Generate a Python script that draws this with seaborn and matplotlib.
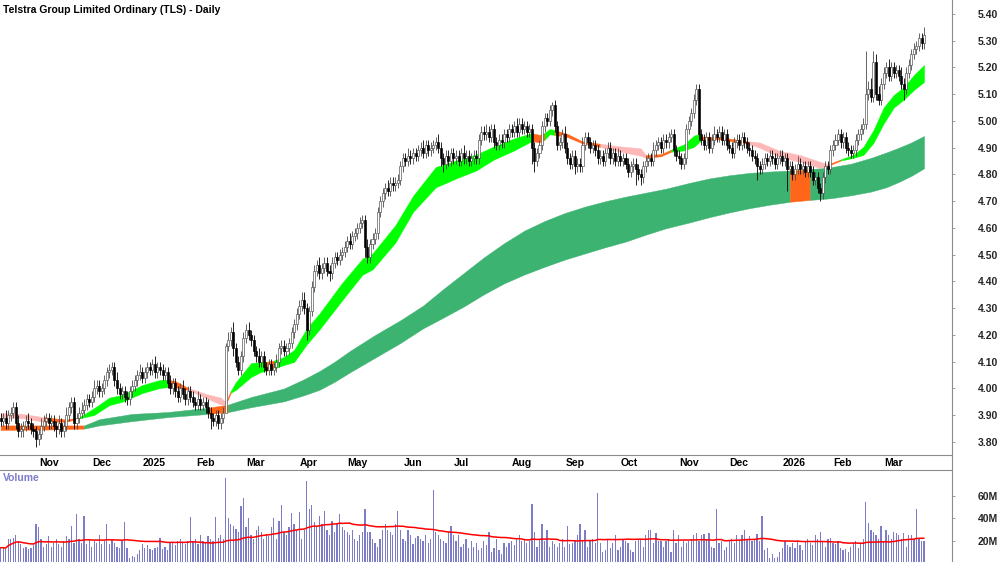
import numpy as np
import pandas as pd
import matplotlib
matplotlib.use("Agg")
import matplotlib.pyplot as plt
import matplotlib.transforms as mtransforms
import seaborn as sns

# ---------------- data ----------------
TITLE = "Telstra Group Limited Ordinary (TLS) - Daily"
START = "2024-10-14"
HOLIDAYS = ["2024-12-25", "2024-12-26", "2025-01-01", "2025-01-27", "2025-04-18",
            "2025-04-21", "2025-04-25", "2025-06-09", "2025-12-25", "2025-12-26",
            "2026-01-01", "2026-01-26"]

FIRST_OPEN = 3.89
CLOSE = [
    3.88, 3.89, 3.87, 3.90, 3.91, 3.93, 3.87, 3.84, 3.85, 3.86,
    3.88, 3.87, 3.85, 3.84, 3.81, 3.83, 3.86, 3.88, 3.89, 3.87,
    3.88, 3.86, 3.85, 3.87, 3.84, 3.86, 3.90, 3.93, 3.95, 3.87,
    3.89, 3.91, 3.92, 3.94, 3.96, 3.95, 3.97, 4.00, 4.01, 3.99,
    4.00, 4.03, 4.06, 4.07, 4.08, 4.03, 4.00, 3.98, 3.99, 3.97,
    3.96, 3.99, 4.01, 4.03, 4.05, 4.06, 4.04, 4.06, 4.08, 4.07,
    4.09, 4.06, 4.08, 4.07, 4.05, 4.06, 4.02, 4.00, 4.02, 3.99,
    3.97, 4.00, 3.98, 3.96, 3.99, 3.97, 3.95, 3.94, 3.96, 3.94,
    3.95, 3.93, 3.91, 3.89, 3.88, 3.90, 3.87, 3.89, 3.91, 4.16,
    4.18, 4.21, 4.15, 4.10, 4.07, 4.12, 4.19, 4.22, 4.20, 4.18,
    4.14, 4.12, 4.10, 4.12, 4.08, 4.07, 4.09, 4.07, 4.08, 4.10,
    4.15, 4.16, 4.14, 4.15, 4.17, 4.21, 4.24, 4.28, 4.31, 4.33,
    4.30, 4.22, 4.29, 4.38, 4.44, 4.46, 4.43, 4.45, 4.47, 4.44,
    4.43, 4.47, 4.49, 4.48, 4.50, 4.51, 4.53, 4.55, 4.54, 4.57,
    4.58, 4.60, 4.62, 4.63, 4.53, 4.49, 4.54, 4.56, 4.58, 4.66,
    4.70, 4.73, 4.75, 4.74, 4.77, 4.76, 4.77, 4.78, 4.83, 4.86,
    4.85, 4.87, 4.86, 4.88, 4.87, 4.89, 4.90, 4.88, 4.91, 4.89,
    4.90, 4.91, 4.92, 4.90, 4.86, 4.84, 4.87, 4.85, 4.88, 4.86,
    4.87, 4.85, 4.88, 4.86, 4.87, 4.85, 4.86, 4.87, 4.86, 4.93,
    4.96, 4.95, 4.96, 4.94, 4.97, 4.92, 4.91, 4.93, 4.92, 4.95,
    4.94, 4.97, 4.96, 4.98, 4.96, 4.99, 4.97, 4.98, 4.96, 4.97,
    4.90, 4.85, 4.88, 4.91, 4.98, 5.01, 5.00, 5.04, 5.06, 4.98,
    4.91, 4.92, 4.95, 4.90, 4.86, 4.84, 4.87, 4.83, 4.84, 4.83,
    4.91, 4.94, 4.92, 4.90, 4.91, 4.89, 4.86, 4.87, 4.85, 4.88,
    4.90, 4.86, 4.88, 4.85, 4.87, 4.85, 4.86, 4.84, 4.81, 4.83,
    4.84, 4.82, 4.80, 4.79, 4.83, 4.85, 4.86, 4.85, 4.89, 4.91,
    4.92, 4.90, 4.93, 4.92, 4.94, 4.95, 4.89, 4.87, 4.86, 4.84,
    4.86, 4.97, 5.00, 5.03, 5.08, 5.12, 4.95, 4.93, 4.91, 4.94,
    4.90, 4.93, 4.95, 4.94, 4.96, 4.93, 4.95, 4.91, 4.90, 4.88,
    4.92, 4.93, 4.91, 4.94, 4.92, 4.90, 4.89, 4.87, 4.86, 4.83,
    4.82, 4.84, 4.86, 4.85, 4.87, 4.86, 4.84, 4.86, 4.87, 4.85,
    4.86, 4.82, 4.83, 4.80, 4.82, 4.84, 4.82, 4.83, 4.81, 4.83,
    4.81, 4.78, 4.79, 4.75, 4.73, 4.79, 4.83, 4.82, 4.89, 4.91,
    4.93, 4.95, 4.92, 4.94, 4.90, 4.89, 4.88, 4.89, 4.93, 4.95,
    4.97, 4.99, 5.10, 5.12, 5.09, 5.22, 5.10, 5.08, 5.14, 5.18,
    5.20, 5.17, 5.20, 5.18, 5.19, 5.17, 5.14, 5.12, 5.18, 5.21,
    5.25, 5.27, 5.28, 5.31, 5.29, 5.32,
]

# wick lengths in cents beyond the candle body
UP_WICK = [
    2, 2, 3, 2, 2, 2, 2, 3, 2, 2, 2, 3, 2, 2, 2, 2, 3, 2, 2, 2,
    2, 2, 2, 3, 2, 2, 3, 2, 2, 2, 2, 2, 3, 2, 2, 2, 2, 3, 2, 2,
    2, 2, 2, 2, 2, 2, 3, 2, 2, 2, 2, 2, 2, 2, 2, 3, 2, 2, 2, 2,
    2, 3, 2, 2, 2, 2, 2, 3, 2, 2, 2, 2, 3, 2, 2, 2, 2, 2, 3, 2,
    2, 2, 3, 2, 2, 2, 2, 2, 2, 1, 3, 2, 4, 2, 2, 2, 2, 2, 3, 2,
    2, 2, 3, 2, 2, 2, 2, 2, 2, 3, 2, 2, 2, 2, 2, 2, 2, 2, 2, 3,
    3, 2, 2, 2, 2, 2, 3, 2, 2, 2, 2, 2, 2, 2, 2, 2, 2, 2, 3, 2,
    2, 2, 2, 2, 2, 3, 2, 2, 2, 2, 2, 2, 2, 3, 2, 2, 2, 2, 2, 2,
    2, 3, 2, 2, 2, 2, 2, 3, 2, 2, 2, 2, 2, 3, 2, 2, 2, 2, 2, 2,
    2, 2, 2, 3, 2, 2, 2, 2, 2, 2, 2, 2, 3, 2, 2, 2, 2, 2, 2, 2,
    2, 2, 2, 2, 3, 2, 2, 2, 2, 2, 2, 2, 2, 2, 2, 2, 2, 2, 1, 2,
    2, 2, 2, 3, 2, 2, 2, 2, 2, 2, 3, 2, 2, 2, 2, 2, 2, 2, 2, 2,
    2, 2, 2, 2, 3, 2, 2, 2, 2, 2, 2, 2, 2, 2, 2, 2, 2, 2, 3, 2,
    2, 2, 2, 2, 2, 2, 2, 2, 2, 2, 2, 2, 2, 2, 2, 2, 2, 2, 2, 2,
    2, 2, 3, 2, 2, 2, 2, 2, 2, 2, 2, 2, 2, 2, 2, 2, 2, 2, 2, 2,
    2, 2, 2, 2, 2, 2, 2, 2, 2, 2, 2, 2, 2, 2, 2, 3, 2, 2, 2, 2,
    2, 2, 2, 2, 2, 2, 2, 2, 2, 2, 2, 2, 2, 2, 2, 2, 2, 2, 2, 2,
    2, 2, 16, 3, 4, 4, 3, 3, 2, 2, 2, 3, 2, 2, 2, 2, 3, 2, 2, 2,
    2, 2, 2, 2, 2, 3,
]
DN_WICK = [
    2, 2, 2, 2, 2, 2, 2, 2, 2, 3, 2, 2, 2, 2, 3, 2, 2, 2, 2, 2,
    2, 2, 3, 2, 2, 2, 2, 2, 2, 2, 2, 2, 2, 2, 2, 2, 2, 2, 2, 2,
    2, 2, 2, 2, 2, 2, 2, 2, 2, 2, 2, 2, 2, 2, 2, 2, 2, 2, 2, 2,
    2, 2, 2, 2, 2, 2, 2, 2, 2, 2, 2, 2, 2, 2, 2, 2, 2, 2, 2, 2,
    2, 2, 2, 4, 2, 2, 2, 2, 2, 0, 2, 2, 3, 2, 2, 2, 2, 2, 2, 2,
    2, 2, 2, 2, 2, 2, 2, 2, 2, 2, 2, 2, 2, 2, 2, 2, 2, 2, 2, 2,
    2, 4, 2, 2, 2, 2, 2, 2, 2, 2, 3, 2, 2, 2, 2, 2, 2, 2, 2, 2,
    2, 2, 2, 2, 4, 2, 2, 2, 2, 2, 2, 2, 2, 2, 2, 2, 2, 2, 2, 2,
    2, 2, 2, 2, 2, 2, 2, 2, 2, 2, 2, 2, 2, 2, 3, 3, 2, 2, 2, 2,
    2, 2, 2, 2, 2, 2, 2, 2, 2, 2, 2, 2, 2, 2, 2, 2, 2, 2, 2, 2,
    2, 2, 2, 2, 2, 2, 2, 2, 2, 2, 6, 4, 2, 2, 2, 2, 2, 2, 2, 2,
    2, 2, 2, 2, 2, 2, 2, 3, 2, 2, 2, 2, 2, 2, 2, 2, 2, 2, 2, 2,
    2, 2, 2, 2, 2, 2, 2, 2, 2, 2, 2, 6, 2, 3, 2, 2, 2, 2, 2, 2,
    2, 2, 2, 2, 2, 2, 2, 2, 2, 2, 2, 2, 2, 2, 2, 2, 2, 2, 2, 2,
    2, 2, 2, 2, 2, 2, 2, 2, 2, 2, 2, 2, 2, 2, 2, 2, 2, 2, 2, 5,
    2, 2, 2, 2, 2, 2, 2, 2, 2, 2, 2, 8, 2, 2, 2, 2, 2, 2, 2, 2,
    2, 2, 2, 2, 3, 2, 2, 2, 2, 2, 2, 2, 2, 2, 2, 2, 2, 2, 2, 2,
    2, 2, 2, 2, 2, 2, 2, 2, 2, 2, 2, 2, 2, 2, 2, 2, 2, 4, 2, 2,
    2, 2, 2, 2, 2, 2,
]

VOLUME_M = [
    14, 14, 13, 22, 22, 23, 25, 20, 17, 14, 15, 13, 14, 16, 35, 32, 22, 15, 17, 24,
    15, 18, 22, 17, 15, 20, 24, 22, 33, 18, 44, 22, 18, 42, 17, 22, 15, 20, 18, 25,
    17, 20, 35, 17, 22, 18, 15, 14, 20, 37, 14, 5, 7, 6, 8, 12, 17, 14, 16, 13,
    12, 14, 15, 23, 13, 15, 12, 18, 19, 16, 20, 22, 18, 17, 20, 41, 20, 22, 17, 25,
    20, 18, 24, 22, 20, 41, 23, 25, 22, 76, 40, 35, 33, 31, 28, 51, 58, 32, 40, 25,
    22, 30, 33, 28, 22, 26, 24, 32, 40, 22, 38, 52, 28, 25, 32, 45, 35, 30, 46, 22,
    30, 73, 48, 52, 37, 33, 42, 35, 47, 30, 25, 38, 28, 35, 44, 32, 30, 28, 25, 30,
    22, 20, 25, 28, 48, 28, 28, 22, 18, 15, 22, 30, 35, 30, 28, 25, 35, 47, 30, 22,
    20, 30, 25, 17, 23, 24, 22, 20, 25, 18, 22, 65, 28, 25, 22, 20, 18, 28, 33, 25,
    20, 25, 15, 17, 22, 14, 20, 15, 18, 12, 14, 20, 16, 28, 10, 14, 22, 12, 8, 18,
    15, 18, 20, 16, 22, 25, 20, 22, 18, 20, 53, 28, 15, 22, 35, 20, 30, 15, 20, 17,
    15, 18, 22, 15, 33, 17, 18, 20, 25, 35, 20, 30, 15, 20, 22, 18, 63, 18, 10, 12,
    22, 14, 18, 25, 12, 15, 22, 20, 18, 12, 10, 20, 22, 22, 15, 25, 30, 30, 18, 27,
    20, 20, 15, 20, 22, 10, 30, 18, 25, 15, 20, 18, 20, 22, 25, 27, 20, 25, 26, 22,
    27, 15, 14, 48, 18, 20, 12, 15, 20, 22, 18, 25, 20, 25, 30, 22, 24, 20, 22, 26,
    20, 42, 12, 14, 5, 8, 5, 6, 10, 14, 20, 16, 15, 18, 14, 20, 16, 12, 20, 22,
    18, 16, 25, 22, 28, 20, 15, 22, 23, 18, 17, 20, 14, 12, 13, 10, 15, 18, 20, 14,
    18, 22, 55, 36, 30, 28, 25, 22, 33, 20, 30, 25, 22, 28, 27, 25, 22, 27, 15, 25,
    25, 22, 48, 22, 20, 20,
]

# short-term trend band: bar number, lower and upper edge, state of each stretch
SHORT_I = [0, 8, 17, 26, 31, 37, 43, 48, 56, 63, 66, 69, 74, 81, 87, 89, 91, 93, 99, 103,
           105, 108, 112, 116, 121, 126, 135, 143, 147, 156, 163, 172, 180, 188, 195, 203, 210, 213, 215, 217,
           219, 224, 230, 237, 245, 253, 255, 261, 265, 270, 274, 276, 277, 284, 295, 300, 308, 316, 324, 327,
           332, 337, 341, 345, 349, 353, 357, 361, 365]
SHORT_LO = [3.890, 3.890, 3.875, 3.876, 3.888, 3.901, 3.938, 3.950, 3.983, 4.002,
            4.005, 4.005, 3.995, 3.965, 3.940, 3.940, 3.984, 3.995, 4.043, 4.062,
            4.066, 4.074, 4.088, 4.099, 4.165, 4.220, 4.330, 4.425, 4.445, 4.545,
            4.660, 4.752, 4.785, 4.815, 4.856, 4.890, 4.925, 4.920, 4.930, 4.950,
            4.948, 4.940, 4.916, 4.903, 4.885, 4.870, 4.862, 4.868, 4.885, 4.890,
            4.903, 4.920, 4.928, 4.932, 4.915, 4.900, 4.865, 4.847, 4.824, 4.832,
            4.852, 4.862, 4.873, 4.918, 4.990, 5.050, 5.080, 5.116, 5.146]
SHORT_HI = [3.908, 3.906, 3.893, 3.884, 3.892, 3.927, 3.966, 3.976, 4.013, 4.032,
            4.033, 4.028, 4.003, 3.980, 3.966, 3.950, 3.992, 4.024, 4.095, 4.099,
            4.100, 4.104, 4.118, 4.144, 4.225, 4.280, 4.395, 4.485, 4.505, 4.610,
            4.720, 4.828, 4.852, 4.875, 4.905, 4.935, 4.955, 4.948, 4.955, 4.970,
            4.966, 4.952, 4.924, 4.915, 4.905, 4.898, 4.873, 4.876, 4.893, 4.912,
            4.945, 4.952, 4.942, 4.940, 4.925, 4.920, 4.888, 4.873, 4.847, 4.838,
            4.856, 4.873, 4.903, 4.966, 5.050, 5.097, 5.127, 5.172, 5.209]
SHORT_STATE = ["d", "d", "m", "m", "u", "u", "u", "u", "u", "u",
               "m", "m", "d", "d", "d", "m", "u", "u", "u", "u",
               "m", "u", "u", "u", "u", "u", "u", "u", "u", "u",
               "u", "u", "u", "u", "u", "u", "m", "m", "u", "u",
               "m", "m", "m", "d", "d", "d", "m", "m", "u", "u",
               "u", "u", "m", "m", "d", "d", "d", "d", "d", "m",
               "u", "u", "u", "u", "u", "u", "u", "u"]

# long-term trend band
LONG_I = [0, 16, 33, 39, 52, 66, 82, 90, 99, 112, 120, 126, 132, 138, 148, 158, 167, 175, 183, 191,
          199, 207, 215, 223, 231, 239, 247, 255, 263, 272, 280, 288, 296, 304, 312, 320, 328, 336, 344, 350,
          355, 360, 365]
LONG_LO = [3.845, 3.846, 3.850, 3.862, 3.878, 3.893, 3.905, 3.912, 3.930, 3.952,
           3.975, 3.995, 4.025, 4.060, 4.115, 4.170, 4.225, 4.265, 4.306, 4.352,
           4.393, 4.426, 4.455, 4.482, 4.505, 4.528, 4.549, 4.575, 4.599, 4.620,
           4.640, 4.658, 4.674, 4.687, 4.698, 4.705, 4.711, 4.722, 4.736, 4.752,
           4.772, 4.795, 4.823]
LONG_HI = [3.862, 3.862, 3.862, 3.885, 3.905, 3.912, 3.928, 3.940, 3.968, 4.000,
           4.035, 4.065, 4.100, 4.140, 4.200, 4.255, 4.310, 4.372, 4.431, 4.490,
           4.543, 4.590, 4.626, 4.656, 4.680, 4.700, 4.717, 4.732, 4.747, 4.768,
           4.785, 4.797, 4.806, 4.811, 4.815, 4.820, 4.827, 4.840, 4.862, 4.882,
           4.900, 4.920, 4.944]
LONG_STATE = ["m", "m", "u", "u", "u", "u", "m", "u", "u", "u",
              "u", "u", "u", "u", "u", "u", "u", "u", "u", "u",
              "u", "u", "u", "u", "u", "u", "u", "u", "u", "u",
              "u", "u", "u", "u", "m", "u", "u", "u", "u", "u",
              "u", "u"]

PRICE_TICKS = [3.80, 3.90, 4.00, 4.10, 4.20, 4.30, 4.40, 4.50, 4.60, 4.70,
               4.80, 4.90, 5.00, 5.10, 5.20, 5.30, 5.40]
VOL_TICKS = [20, 40, 60]

# ---------------- style ----------------
SHORT_COLORS = {"u": "#00FF00", "m": "#FF6619", "d": "#FFB8B8"}
LONG_COLORS = {"u": "#3CB371", "m": "#FF6619", "d": "#FFB8B8"}
AXIS_GREY = "#8C8C8C"
VOL_COLOR = "#7C7CC8"
UP_EDGE = "#4A4A4A"

sns.set_style("white")
plt.rcParams['font.family'] = ['Liberation Sans', 'DejaVu Sans']


def fill_band(ax, xs, lo, hi, states, colors):
    xs, lo, hi = np.asarray(xs), np.asarray(lo), np.asarray(hi)
    k = 0
    while k < len(states):
        j = k
        while j + 1 < len(states) and states[j + 1] == states[k]:
            j += 1
        sl = slice(k, j + 2)
        c = colors[states[k]]
        ax.fill_between(xs[sl], lo[sl], hi[sl], color=c, ec=c, lw=0.3, zorder=2)
        k = j + 1


def main():
    close = np.array(CLOSE)
    n = len(close)
    idx = np.arange(n)
    open_ = np.r_[FIRST_OPEN, close[:-1]]
    top = np.maximum(open_, close)
    bot = np.minimum(open_, close)
    high = top + np.array(UP_WICK) / 100
    low = bot - np.array(DN_WICK) / 100
    up = close >= open_
    body = np.maximum(top - bot, 0.003)

    cbd = pd.offsets.CustomBusinessDay(holidays=HOLIDAYS)
    dates = pd.date_range(START, periods=n, freq=cbd)
    month_idx = [i for i in range(1, n) if dates[i].month != dates[i - 1].month]
    month_lbl = [str(dates[i].year) if dates[i].month == 1 else dates[i].strftime("%b")
                 for i in month_idx]

    vol = pd.Series(VOLUME_M, dtype=float)
    vol_ma = vol.rolling(50, min_periods=1).mean()

    fig = plt.figure(figsize=(10, 5.62), dpi=100)
    ax = fig.add_axes([0, 107 / 562, 0.952, 455 / 562])
    axv = fig.add_axes([0, 0, 0.952, 92 / 562])

    xlim = (-0.24, 376.05)

    # --- price panel ---
    fill_band(ax, LONG_I, LONG_LO, LONG_HI, LONG_STATE, LONG_COLORS)
    fill_band(ax, SHORT_I, SHORT_LO, SHORT_HI, SHORT_STATE, SHORT_COLORS)

    ax.vlines(idx[up], low[up], high[up], color=UP_EDGE, lw=0.6, zorder=3)
    ax.vlines(idx[~up], low[~up], high[~up], color="black", lw=0.6, zorder=3)
    ax.bar(idx[up], body[up], bottom=bot[up], width=0.8, color="white",
           edgecolor=UP_EDGE, lw=0.45, zorder=4)
    ax.bar(idx[~up], body[~up], bottom=bot[~up], width=0.8, color="black",
           edgecolor="black", lw=0.45, zorder=4)

    ax.set_xlim(*xlim)
    ax.set_ylim(3.7514, 5.4523)
    ax.yaxis.tick_right()
    ax.set_yticks(PRICE_TICKS, labels=[f"{v:.2f}" for v in PRICE_TICKS],
                  fontweight="bold", fontsize=7.5)
    ax.tick_params(axis="y", direction="out", length=2.5, width=0.6,
                   color=AXIS_GREY, pad=16, right=True, left=False)
    ax.set_xticks(month_idx, labels=[""] * len(month_idx))
    ax.tick_params(axis="x", direction="out", length=3, width=0.6, color=AXIS_GREY)
    for s in ["top", "left"]:
        ax.spines[s].set_visible(False)
    for s in ["bottom", "right"]:
        ax.spines[s].set_color(AXIS_GREY)
        ax.spines[s].set_linewidth(0.8)
    trans = mtransforms.blended_transform_factory(ax.transData, ax.transAxes)
    for i, lbl in zip(month_idx, month_lbl):
        ax.text(i + 1.2, -0.0176, lbl, transform=trans, ha="left", va="center",
                fontsize=7.5, fontweight="bold", color="black")
    ax.set_xlabel("")
    ax.set_ylabel("")

    # --- volume panel ---
    axv.bar(idx, vol.values, width=0.5, color=VOL_COLOR, lw=0, zorder=2)
    sns.lineplot(x=idx, y=vol_ma.values, ax=axv, color="#FF0000", lw=1.1, zorder=3)
    axv.set_xlim(*xlim)
    axv.set_ylim(1.3, 83)
    axv.yaxis.tick_right()
    axv.set_yticks(VOL_TICKS, labels=[f"{v}M" for v in VOL_TICKS],
                   fontweight="bold", fontsize=7.5)
    axv.tick_params(axis="y", direction="out", length=2.5, width=0.6,
                    color=AXIS_GREY, pad=16, right=True, left=False)
    axv.set_xticks([])
    for s in ["bottom", "left"]:
        axv.spines[s].set_visible(False)
    for s in ["top", "right"]:
        axv.spines[s].set_color(AXIS_GREY)
        axv.spines[s].set_linewidth(0.8)
    axv.set_xlabel("")
    axv.set_ylabel("")
    axv.text(0.003, 0.91, "Volume", transform=axv.transAxes, ha="left", va="center",
             fontsize=7.5, fontweight="bold", color=VOL_COLOR)

    # join the two right-hand axis lines across the label strip
    fig.add_artist(plt.Line2D([0.952, 0.952], [92 / 562, 107 / 562],
                              transform=fig.transFigure, color=AXIS_GREY, lw=0.8))

    fig.text(0.003, 1 - 10 / 562, TITLE, ha="left", va="center",
             fontsize=7.5, fontweight="bold", color="black")

    fig.savefig("out.png", dpi=100)


if __name__ == "__main__":
    main()
